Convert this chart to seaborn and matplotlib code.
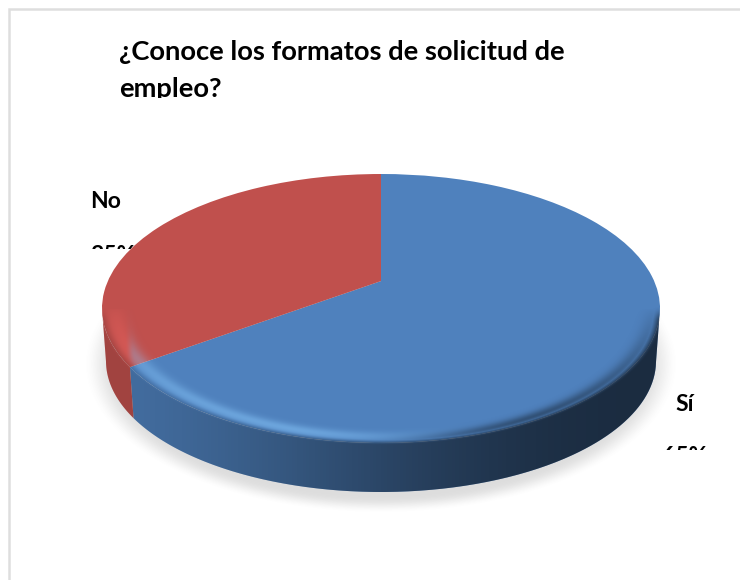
import numpy as np
import matplotlib
matplotlib.use("Agg")
import matplotlib.pyplot as plt
from matplotlib.path import Path
from matplotlib.patches import PathPatch
from matplotlib.transforms import Bbox, Transform
import seaborn as sns

TITLE = "¿Conoce los formatos de solicitud de\nempleo?"
categories = ["Sí", "No"]
shares = [65, 35]
share_labels = ["65%", "35%"]
slice_colors = ["#4f81bd", "#c0504d"]

W, H = 740, 580
# Pie geometry on a pixel-sized canvas: upper rim, lower rim, tilt of the apex.
CX, CY, RX, RY = 381.0, 308.5, 279.0, 134.5
BCX, BCY, BRX, BRY = 381.0, 361.0, 275.0, 131.0
K = 0.204


def tilt(x, y):
    """Projective map of the unit disc onto itself that moves the centre back."""
    d = 1 + K * y
    return x * np.sqrt(1 - K ** 2) / d, (y + K) / d


class TiltedDisc(Transform):
    input_dims = 2
    output_dims = 2
    is_separable = False
    has_inverse = False

    def transform_non_affine(self, values):
        values = np.asarray(values, dtype=float)
        u, v = tilt(values[:, 0], values[:, 1])
        return np.column_stack([CX + RX * u, CY - RY * v])


sns.set_theme(style="white")
plt.rcParams["font.family"] = ["Lato", "DejaVu Sans"]

fig = plt.figure(figsize=(W / 100, H / 100), dpi=100, facecolor="white")
ax = fig.add_axes([0, 0, 1, 1])

# Top face of the pie.
wedges, _ = ax.pie(shares, colors=slice_colors, startangle=90, counterclock=False,
                   radius=1.0, center=(0, 0), wedgeprops={"linewidth": 0, "zorder": 3})
ax.set_aspect("auto")
ax.set_xlim(0, W)
ax.set_ylim(H, 0)
ax.axis("off")
for w in wedges:
    w.set_transform(TiltedDisc() + ax.transData)

# Side wall of each slice, limited to the part of the rim that faces the viewer.
fractions = np.array(shares, dtype=float) / sum(shares)
edges = np.concatenate([[0], np.cumsum(fractions)]) * 2 * np.pi
for start, stop, colour in zip(edges[:-1], edges[1:], slice_colors):
    th = np.linspace(start, stop, 400)
    u, v = tilt(np.sin(th), np.cos(th))
    keep = v < 0
    u, v = u[keep], v[keep]
    top_x, top_y = CX + RX * u, CY - RY * v
    low_x, low_y = BCX + BRX * u, BCY - BRY * v
    ax.fill(np.r_[top_x, low_x[::-1]], np.r_[top_y, low_y[::-1]],
            color=colour, lw=0, zorder=2)

# Where the two slices meet on the front rim.
split_u, _ = tilt(np.sin(edges[1]), np.cos(edges[1]))
split_x = CX + RX * split_u

yy, xx = np.mgrid[0:H, 0:W] + 0.5
rho = np.hypot((xx - CX) / RX, (yy - CY) / RY)


def smooth(a, b, x):
    t = np.clip((x - a) / (b - a), 0, 1)
    return t * t * (3 - 2 * t)


# Soft drop shadow under the body.
s_rho = np.hypot((xx - 381) / 285.0, (yy - 364) / 143.0)
shadow = np.zeros((H, W, 4))
shadow[..., :3] = 0.35
shadow[..., 3] = 0.20 * (1 - smooth(0.93, 1.045, s_rho))
ax.imshow(shadow, extent=(0, W, H, 0), aspect="auto", zorder=1, interpolation="bilinear")

# Light and dark shading laid over the body.
rel_y = (yy - CY) / RY
front = np.clip(rel_y, 0, 1)
xn = np.clip((xx - 102) / 558.0, 0, 1)
band = np.exp(-((rho - 0.95) / 0.036) ** 2) * front ** 0.4
glow = band * (1 - smooth(0.32, 0.70, xn))
dark_wall = 0.16 + 0.50 * smooth(0.02, 0.95, xn) ** 0.8
wall = smooth(0.968, 1.015, rho) * smooth(-0.02, 0.10, rel_y)
dark_lip = np.exp(-((rho - 0.975) / 0.035) ** 2) * front ** 0.7 * smooth(0.45, 0.8, xn) * 0.45

light_a = 0.50 * glow * (1 - wall)
dark_a = np.maximum(dark_wall * wall, dark_lip * (1 - wall))

# The highlight takes a warm tint over the red slice and a cool one over the blue.
warm = 1 - smooth(split_x - 5, split_x + 5, xx)
light_rgb = (warm[..., None] * np.array([1.0, 0.42, 0.40])
             + (1 - warm[..., None]) * np.array([0.55, 0.80, 1.0]))

shade = np.zeros((H, W, 4))
total = light_a + dark_a * (1 - light_a)
mix = light_a / np.maximum(total, 1e-6)
shade[..., :3] = mix[..., None] * light_rgb
shade[..., 3] = total
im = ax.imshow(shade, extent=(0, W, H, 0), aspect="auto", zorder=4, interpolation="bilinear")

# Outline of the whole body, used to trim the shading.
ang = np.linspace(np.pi, 0, 300)
sil_top = np.column_stack([CX + RX * np.cos(ang), CY - RY * np.sin(ang)])
ang2 = np.linspace(0, -np.pi, 300)
sil_low = np.column_stack([BCX + BRX * np.cos(ang2), BCY - BRY * np.sin(ang2)])
outline = np.vstack([sil_top, sil_low, sil_top[:1]])
im.set_clip_path(PathPatch(Path(outline), transform=ax.transData))

ax.set_xlim(0, W)
ax.set_ylim(H, 0)

# Chart frame: only its left and top sides fall inside the canvas.
ax.plot([9, 9, W], [H, 9, 9], color="#dedede", lw=1.8, zorder=0, clip_on=False,
        solid_joinstyle="miter")


def clipped_text(x, y, s, size, clip_bottom, zorder=6, **kw):
    t = ax.text(x, y, s, fontsize=size, fontweight="bold", color="black",
                ha="left", zorder=zorder, **kw)
    # Clip box in display pixels: everything below clip_bottom is cut off.
    t.set_clip_box(Bbox([[0, H - clip_bottom], [W, H]]))
    t.set_clip_on(True)
    return t


clipped_text(119, 40, TITLE, 19.7, 98, va="top", linespacing=1.63)

# Data labels: name above, share below, the share cut off by its label box.
name_pos = {"Sí": (675, 411), "No": (90, 208)}
share_pos = {"Sí": (662, 463, 450), "No": (90, 262, 248.5)}
for name, pct in zip(categories, share_labels):
    nx, ny = name_pos[name]
    px, py, bottom = share_pos[name]
    clipped_text(nx, ny, name, 16.5, H, zorder=2.5, va="baseline")
    clipped_text(px, py, pct, 16.5, bottom, zorder=2.5, va="baseline")

fig.savefig("out.png", dpi=100)
